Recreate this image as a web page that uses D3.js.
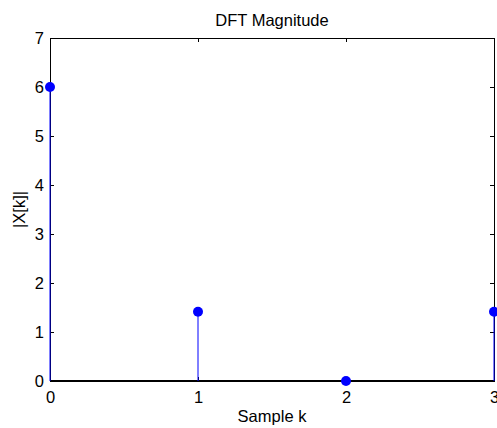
<!DOCTYPE html>
<html>
<head>
<meta charset="utf-8">
<script src="https://cdn.jsdelivr.net/npm/d3@7"></script>
<style>
  body { margin: 0; background: #fff; }
  text { font-family: "Liberation Sans", Arial, sans-serif; fill: #000; }
</style>
</head>
<body>
<div id="chart"></div>
<script>
// stem data
var samples = [0, 1, 2, 3];
var magnitudes = [6, 1.4142, 0, 1.4142];
var xTicks = [0, 1, 2, 3];
var yTicks = [0, 1, 2, 3, 4, 5, 6, 7];

var W = 497, H = 428;
var margin = {top: 38, right: 3, bottom: 47, left: 50};
var width = W - margin.left - margin.right;
var height = H - margin.top - margin.bottom;
var fontSize = "16.5px";

var x = d3.scaleLinear().domain([0, 3]).range([0, width]);
var y = d3.scaleLinear().domain([0, 7]).range([height, 0]);

var svg = d3.select("#chart").append("svg")
    .attr("width", W)
    .attr("height", H)
    .append("g")
    .attr("transform", "translate(" + margin.left + "," + margin.top + ")");

// axes with inward ticks on all four sides
function styleAxis(g) {
    g.select(".domain").remove();
    g.selectAll(".tick line").attr("stroke", "#000");
    g.selectAll(".tick text").style("font-size", fontSize).attr("fill", "#000");
}

svg.append("g")
    .attr("transform", "translate(0," + height + ")")
    .call(d3.axisBottom(x).tickValues(xTicks).tickSize(-4).tickPadding(10).tickFormat(d3.format("d")))
    .call(styleAxis);

svg.append("g")
    .call(d3.axisLeft(y).tickValues(yTicks).tickSize(-4).tickPadding(6).tickFormat(d3.format("d")))
    .call(styleAxis);

svg.append("g")
    .call(d3.axisTop(x).tickValues(xTicks).tickSize(-4).tickFormat(""))
    .call(styleAxis);

svg.append("g")
    .attr("transform", "translate(" + width + ",0)")
    .call(d3.axisRight(y).tickValues(yTicks).tickSize(-4).tickFormat(""))
    .call(styleAxis);

// box
svg.append("rect")
    .attr("x", 0.5).attr("y", 0.5)
    .attr("width", width).attr("height", height)
    .attr("fill", "none")
    .attr("stroke", "#000")
    .attr("stroke-width", 1);

// stem baseline
svg.append("line")
    .attr("x1", x(0)).attr("x2", x(3))
    .attr("y1", y(0)).attr("y2", y(0))
    .attr("stroke", "#000")
    .attr("stroke-width", 2);

// stems
svg.selectAll(".stem")
    .data(samples)
    .enter()
    .append("line")
    .attr("class", "stem")
    .attr("x1", function(d) { return x(d); })
    .attr("x2", function(d) { return x(d); })
    .attr("y1", y(0))
    .attr("y2", function(d, i) { return y(magnitudes[i]); })
    .attr("stroke", "#0000ff")
    .attr("stroke-width", 1);

// markers
svg.selectAll(".dot")
    .data(samples)
    .enter()
    .append("circle")
    .attr("class", "dot")
    .attr("cx", function(d) { return x(d); })
    .attr("cy", function(d, i) { return y(magnitudes[i]); })
    .attr("r", 5)
    .attr("fill", "#0000ff");

// title and labels
svg.append("text")
    .attr("x", width / 2)
    .attr("y", -12)
    .attr("text-anchor", "middle")
    .style("font-size", fontSize)
    .text("DFT Magnitude");

svg.append("text")
    .attr("x", width / 2)
    .attr("y", height + 41)
    .attr("text-anchor", "middle")
    .style("font-size", fontSize)
    .text("Sample k");

svg.append("text")
    .attr("transform", "translate(-25," + (height / 2) + ") rotate(-90)")
    .attr("text-anchor", "middle")
    .style("font-size", fontSize)
    .text("|X[k]|");
</script>
</body>
</html>
